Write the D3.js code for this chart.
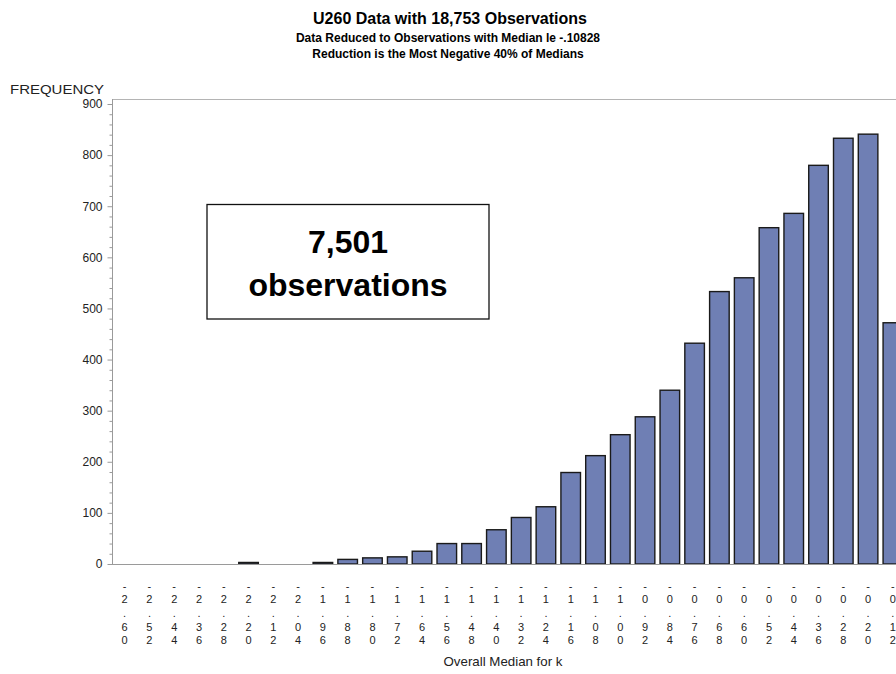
<!DOCTYPE html>
<html>
<head>
<meta charset="utf-8">
<script src="https://cdn.jsdelivr.net/npm/d3@7"></script>
<style>
  html, body { margin: 0; padding: 0; background: #fff; }
  svg { display: block; }
  text { font-family: "Liberation Sans", Arial, sans-serif; }
</style>
</head>
<body>
<svg id="chart" width="896" height="674"></svg>
<script>
// ---- data ----
const categories = ["-2.60","-2.52","-2.44","-2.36","-2.28","-2.20","-2.12","-2.04",
  "-1.96","-1.88","-1.80","-1.72","-1.64","-1.56","-1.48","-1.40","-1.32","-1.24",
  "-1.16","-1.08","-1.00","-0.92","-0.84","-0.76","-0.68","-0.60","-0.52","-0.44",
  "-0.36","-0.28","-0.20","-0.12"];
const frequencies = [0,0,0,0,0,3,0,0,
  3,9,12,14,25,40,40,67,91,112,
  179,212,253,288,340,432,533,560,658,686,
  780,833,841,472];
const yTicks = [0,100,200,300,400,500,600,700,800,900];
const titleLines = ["U260 Data with 18,753 Observations",
  "Data Reduced to Observations with Median le -.10828",
  "Reduction is the Most Negative 40% of Medians"];
const yLabel = "FREQUENCY";
const xLabel = "Overall Median for k";
const annotation = ["7,501", "observations"];

(function () {
// ---- layout ----
const svg = d3.select("#chart");
const W = 896, H = 674;
const plotL = 112, plotT = 99, base = 564;

svg.append("rect").attr("width", W).attr("height", H).attr("fill", "#fff");

const x = d3.scaleBand().domain(categories)
  .range([plotL, 905.5]).paddingInner(0.21).paddingOuter(0.115);
const y = d3.scaleLinear().domain([0, 900]).range([base, 104]);

// titles
svg.append("text").attr("x", 450).attr("y", 24).attr("text-anchor", "middle")
  .attr("font-size", 16).attr("font-weight", "bold").attr("fill", "#000").text(titleLines[0]);
svg.append("text").attr("x", 448).attr("y", 41.5).attr("text-anchor", "middle")
  .attr("font-size", 12).attr("font-weight", "bold").attr("fill", "#000").text(titleLines[1]);
svg.append("text").attr("x", 448).attr("y", 57.5).attr("text-anchor", "middle")
  .attr("font-size", 12).attr("font-weight", "bold").attr("fill", "#000").text(titleLines[2]);

// frame top line
svg.append("line").attr("x1", plotL).attr("x2", W).attr("y1", plotT + 0.5).attr("y2", plotT + 0.5)
  .attr("stroke", "#b4b4b4").attr("stroke-width", 1);

// bars
svg.append("g").selectAll("rect").data(categories).join("rect")
  .attr("x", d => x(d))
  .attr("width", x.bandwidth())
  .attr("y", (d, i) => y(frequencies[i]))
  .attr("height", (d, i) => base - y(frequencies[i]))
  .attr("fill", "#6f7fb4")
  .attr("stroke", "#1a1a1a")
  .attr("stroke-width", 1.4);

// y axis
const minor = d3.range(0, 901, 20).filter(v => v % 100 !== 0);
const yAxisMinor = d3.axisLeft(y).tickValues(minor).tickSize(3).tickFormat("");
const gMinor = svg.append("g").attr("transform", `translate(${plotL + 0.5},0)`).call(yAxisMinor);
gMinor.select(".domain").remove();
gMinor.selectAll("line").attr("stroke", "#9a9a9a");

const yAxis = d3.axisLeft(y).tickValues(yTicks).tickSize(5).tickPadding(5).tickFormat(d3.format("d"));
const gY = svg.append("g").attr("transform", `translate(${plotL + 0.5},0)`).call(yAxis);
gY.select(".domain").remove();
gY.selectAll("line").attr("stroke", "#9a9a9a");
gY.selectAll("text").attr("font-size", 12).attr("fill", "#222")
  .attr("font-family", "'Liberation Sans', Arial, sans-serif");
svg.append("line").attr("x1", plotL + 0.5).attr("x2", plotL + 0.5).attr("y1", plotT).attr("y2", base)
  .attr("stroke", "#9a9a9a");

// baseline
svg.append("line").attr("x1", plotL).attr("x2", W).attr("y1", base + 0.5).attr("y2", base + 0.5)
  .attr("stroke", "#9a9a9a").attr("stroke-width", 1);

// y label
svg.append("text").attr("x", 10).attr("y", 94).attr("font-size", 13.5)
  .attr("textLength", 94).attr("lengthAdjust", "spacingAndGlyphs")
  .attr("fill", "#222").text(yLabel);

// x tick labels, stacked characters
const gX = svg.append("g");
categories.forEach(c => {
  const cx = x(c) + x.bandwidth() / 2;
  const t = gX.append("text").attr("text-anchor", "middle").attr("font-size", 11).attr("fill", "#222");
  c.split("").forEach((ch, j) => {
    t.append("tspan").attr("x", cx).attr("y", 589.5 + j * 13.7).text(ch);
  });
});

// x label
svg.append("text").attr("x", 503).attr("y", 666).attr("text-anchor", "middle")
  .attr("font-size", 13.3).attr("fill", "#222").text(xLabel);

// annotation box
svg.append("rect").attr("x", 207).attr("y", 204.5).attr("width", 282).attr("height", 114.5)
  .attr("fill", "#fff").attr("stroke", "#111").attr("stroke-width", 1.3);
svg.append("text").attr("x", 348).attr("y", 253).attr("text-anchor", "middle")
  .attr("font-family", "Lato, 'Open Sans', sans-serif").attr("font-weight", "bold")
  .attr("font-size", 32).attr("fill", "#000").text(annotation[0]);
svg.append("text").attr("x", 348).attr("y", 296).attr("text-anchor", "middle")
  .attr("font-family", "Lato, 'Open Sans', sans-serif").attr("font-weight", "bold")
  .attr("font-size", 32).attr("fill", "#000").text(annotation[1]);
})();
</script>
</body>
</html>
